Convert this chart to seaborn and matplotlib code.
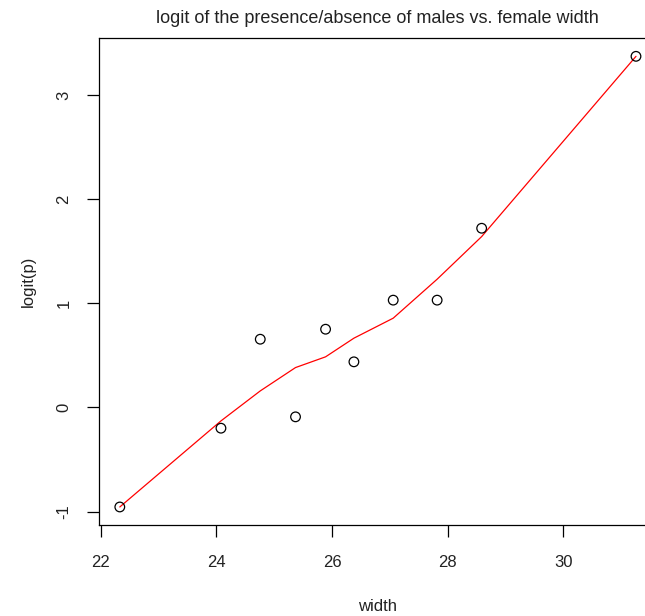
import matplotlib
matplotlib.use("Agg")
import matplotlib.pyplot as plt
import seaborn as sns
import pandas as pd

width = [22.33, 24.08, 24.76, 25.37, 25.89, 26.38, 27.06, 27.82, 28.59, 31.26]
logit_p = [-0.955, -0.199, 0.655, -0.090, 0.751, 0.438, 1.030, 1.030, 1.720, 3.370]
lowess_fit = [-0.955, -0.129, 0.159, 0.383, 0.486, 0.665, 0.857, 1.231, 1.640, 3.370]
x_ticks = [22, 24, 26, 28, 30]
y_ticks = [-1, 0, 1, 2, 3]

df = pd.DataFrame({"width": width, "logit": logit_p, "fit": lowess_fit})

sns.set_style("white")
plt.rcParams["font.family"] = ["Liberation Sans", "DejaVu Sans"]

fig = plt.figure(figsize=(6.45, 6.16), dpi=100)
ax = fig.add_axes([98.7 / 645, 1 - 525 / 616, (656.8 - 98.7) / 645, (525 - 38.3) / 616])

sns.lineplot(data=df, x="width", y="fit", ax=ax, color="red", lw=0.9,
             sort=False, estimator=None)
sns.scatterplot(data=df, x="width", y="logit", ax=ax, marker="o", s=48,
                facecolor="none", edgecolor="black", linewidth=0.9, zorder=3)

ax.set_xlim(21.965, 31.62)
ax.set_ylim(-1.128, 3.543)
ax.set_xticks(x_ticks)
ax.set_yticks(y_ticks)
ax.set_xticklabels([str(t) for t in x_ticks])
ax.set_yticklabels([str(t) for t in y_ticks], rotation=90, va="center")

for s in ax.spines.values():
    s.set_color("black")
    s.set_linewidth(0.9)

ax.tick_params(axis="both", which="major", direction="out", length=8.5,
               width=0.9, color="black", labelsize=12, labelcolor="#222222",
               bottom=True, left=True)
ax.tick_params(axis="x", pad=13)
ax.tick_params(axis="y", pad=11)

ax.set_xlabel("width", fontsize=12, color="#222222", labelpad=21)
ax.set_ylabel("logit(p)", fontsize=12, color="#222222", labelpad=15)
ax.set_title("logit of the presence/absence of males vs. female width",
             fontsize=13, color="#222222", pad=11)
ax.grid(False)

fig.savefig("out.png", dpi=100)
